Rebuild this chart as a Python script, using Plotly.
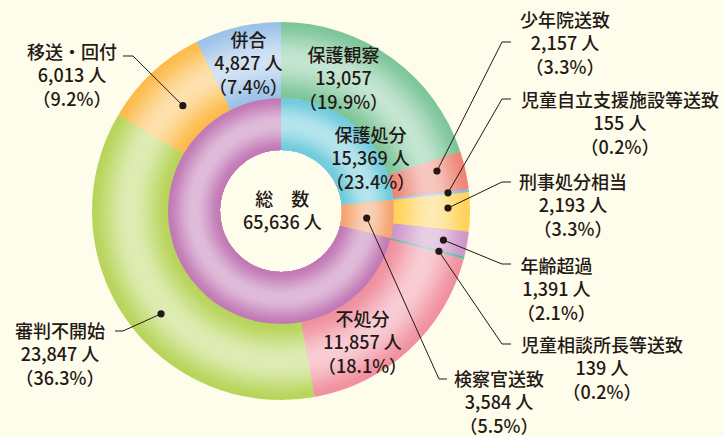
import math
import plotly.graph_objects as go

# ---------------- data ----------------
outer_labels = ["保護観察", "少年院送致", "児童自立支援施設等送致", "刑事処分相当", "年齢超過",
                "児童相談所長等送致", "不処分", "審判不開始", "移送・回付", "併合"]
outer_values = [13057, 2157, 155, 2193, 1391, 139, 11857, 23847, 6013, 4827]
inner_labels = ["保護処分", "検察官送致", "その他"]
inner_groups = [[0, 1, 2], [3, 4], [5, 6, 7, 8, 9]]
total_label = "総　数"

total = sum(outer_values)
inner_values = [sum(outer_values[i] for i in g) for g in inner_groups]

# ---------------- style ----------------
W, H = 724, 437
CX, CY = 281, 211
R_OUT, R_MID, R_IN = 189, 113, 61
BG = "#FEFCEB"
TXT = "#231815"
FONT = "Noto Sans CJK JP"
FS = 18

outer_colors = ["#7CC69A", "#EE8575", "#86B9E8", "#FFD257", "#CF96C8",
                "#4FC0A0", "#F1909F", "#B8D55A", "#FDBB4B", "#9CC2E8"]
inner_colors = ["#6ECBDD", "#F5A46E", "#C279B5"]


def lighten(h, a):
    r, g, b = int(h[1:3], 16), int(h[3:5], 16), int(h[5:7], 16)
    return "rgb(%d,%d,%d)" % (r + (255 - r) * a, g + (255 - g) * a, b + (255 - b) * a)


def ring(values, colors, r_out, r_in, n=24, amp=0.55):
    tr = []
    for i in range(n):
        ro = r_out - i * (r_out - r_in) / n
        t = (i + 0.5) / n
        a = amp * (math.sin(math.pi * t)) ** 1.6
        tr.append(go.Pie(
            values=values, sort=False, direction="clockwise", rotation=0,
            hole=r_in / ro,
            domain=dict(x=[(CX - ro) / W, (CX + ro) / W],
                        y=[1 - (CY + ro) / H, 1 - (CY - ro) / H]),
            marker=dict(colors=[lighten(c, a) for c in colors], line=dict(width=0)),
            textinfo="none", hoverinfo="skip", showlegend=False))
    return tr


fig = go.Figure()
for t in ring(outer_values, outer_colors, R_OUT, R_MID):
    fig.add_trace(t)
for t in ring(inner_values, inner_colors, R_MID, R_IN, n=20, amp=0.5):
    fig.add_trace(t)


def P(x, y):
    return x / W, 1 - y / H


def slice_point(values, idx, frac, r):
    tot = sum(values)
    start = sum(values[:idx])
    ang = (start + frac * values[idx]) / tot * 2 * math.pi
    return CX + r * math.sin(ang), CY - r * math.cos(ang)


def label_text(name, v, unit=" 人"):
    return "<br>".join([name, "%s%s" % (format(v, ","), unit),
                        "（%.1f%%）" % (v / total * 100)])


shapes = []
annotations = []


def add_text(text, cx, cy):
    x, y = P(cx, cy)
    annotations.append(dict(x=x, y=y, xref="paper", yref="paper", showarrow=False,
                            text=text, xanchor="center", yanchor="middle",
                            align="center", borderpad=0,
                            font=dict(family=FONT, size=FS, color=TXT, weight=500)))


# leader lines: (ring, index, frac, radius, elbow, end, label center x, middle line y)
leaders = [
    ("o", 1, 0.34, 161, (502, 42), (511, 42), 565, 42),
    ("o", 2, 0.40, 168, (502, 99), (511, 99), 620, 122),
    ("o", 3, 0.39, 167, (502, 182), (511, 182), 573, 204),
    ("o", 4, 0.50, 165, (502, 264), (511, 264), 556, 288),
    ("o", 5, 0.50, 163, (502, 344), (511, 344), 602, 367),
    ("i", 1, 0.53, 86, (439, 379), (447, 379), 499, 401),
    ("o", 7, 0.456, 158, (123, 331), (115, 331), 60, 353),
    ("o", 8, 0.50, 144, (133, 56), (123, 56), 72, 74),
]
for rg, idx, frac, rad, elb, end, lx, ly in leaders:
    vals = outer_values if rg == "o" else inner_values
    name = outer_labels[idx] if rg == "o" else inner_labels[idx]
    dx, dy = slice_point(vals, idx, frac, rad)
    path = "M %f,%f L %f,%f L %f,%f" % (*P(dx, dy), *P(*elb), *P(*end))
    shapes.append(dict(type="path", xref="paper", yref="paper", path=path,
                       line=dict(color=TXT, width=1)))
    shapes.append(dict(type="circle", xref="paper", yref="paper",
                       x0=(dx - 3.6) / W, x1=(dx + 3.6) / W,
                       y0=1 - (dy + 3.6) / H, y1=1 - (dy - 3.6) / H,
                       fillcolor=TXT, line=dict(width=0)))
    add_text(label_text(name, vals[idx]), lx, ly)

# labels placed on the rings
inside = [
    (outer_labels[0], outer_values[0], "", 343, 78),
    (outer_labels[9], outer_values[9], " 人", 248, 63),
    (outer_labels[6], outer_values[6], " 人", 362, 341),
    (inner_labels[0], inner_values[0], " 人", 370, 158),
]
for name, v, unit, lx, ly in inside:
    add_text(label_text(name, v, unit), lx, ly)

add_text("%s<br>%s 人" % (total_label, format(total, ",")), 282, 209)

fig.update_layout(width=W, height=H, margin=dict(l=0, r=0, t=0, b=0),
                  paper_bgcolor=BG, plot_bgcolor=BG, showlegend=False,
                  shapes=shapes, annotations=annotations)
fig.write_html("out.html", config={"displayModeBar": False},
               post_script="document.body.style.margin='0';document.body.style.overflow='hidden';")
